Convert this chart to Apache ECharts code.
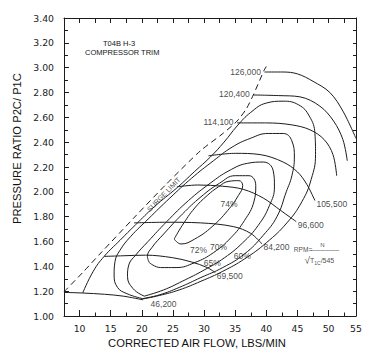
<!DOCTYPE html>
<html><head><meta charset="utf-8">
<script src="https://cdn.jsdelivr.net/npm/echarts@6/dist/echarts.min.js"></script>
<style>html,body{margin:0;padding:0;background:#fff}#c{width:372px;height:361px}</style>
</head><body><div id="c"></div>
<script>
// ---- axes ----
const X_MIN = 7.5, X_MAX = 54.4, Y_MIN = 1.0, Y_MAX = 3.4;
const xTickLabels = [10, 15, 20, 25, 30, 35, 40, 45, 50, 55];
const xMinorTicks = [12.5, 17.5, 22.5, 27.5, 32.5, 37.5, 42.5, 47.5, 52.5];
const yTickLabels = ['1.00','1.20','1.40','1.60','1.80','2.00','2.20','2.40','2.60','2.80','3.00','3.20','3.40'];

// ---- surge limit (dashed) ----
const surgeLimit = [[7.5,1.195],[10.5,1.35],[13.4,1.507],[19,1.805],[23.8,2.055],[29.4,2.33],[32.9,2.465],[35.3,2.57],[36.8,2.67],[37.9,2.78],[39.65,2.98],[40,3.01]];

// ---- speed lines (RPM) ----
const speedNames = ['46,200','69,500','84,200','96,600','105,500','114,100','120,400','126,000'];
const rpm46200  = [[7.5,1.19],[10.5,1.185],[14,1.175],[17,1.16],[20.2,1.13]];
const rpm69500  = [[13.95,1.48],[17,1.485],[20.6,1.49],[24.9,1.47],[28,1.435],[30.5,1.39],[31.8,1.35]];
const rpm84200  = [[18.76,1.75],[24,1.755],[29.4,1.75],[34.7,1.72],[37.5,1.665],[39.3,1.58]];
const rpm96600  = [[25.65,2.04],[29,2.055],[33,2.045],[36.3,2.02],[39.5,1.95],[42.3,1.85],[44.8,1.76]];
const rpm105500 = [[30.7,2.29],[35,2.31],[39,2.30],[42.7,2.24],[45,2.16],[46.5,2.06],[47.8,1.93]];
const rpm114100 = [[35.3,2.555],[40,2.555],[44,2.54],[47,2.5],[49.3,2.42],[50.7,2.3],[51.3,2.13]];
const rpm120400 = [[37.9,2.78],[42,2.775],[45.4,2.765],[48.6,2.69],[50.8,2.57],[52.3,2.42],[53,2.25]];
const rpm126000 = [[39.7,2.965],[42.7,2.965],[45,2.95],[47.5,2.89],[50.2,2.80],[52.3,2.65],[54.4,2.43]];

// ---- efficiency islands ----
const effNames = ['60%','65%','70%','72%','74%'];
const eff60 = [[10.5,1.185],[12.2,1.36],[13.95,1.48],[16.5,1.61],[19,1.735],[22,1.88],[25.7,2.035],[28.5,2.165],[31,2.28],[33.2,2.40],[35.3,2.53],[37.5,2.64],[40,2.715],[42.7,2.73],[45.2,2.70],[46.9,2.61],[47.8,2.47],[47.9,2.30],[47.2,2.10],[45.7,1.92],[43.3,1.75],[40,1.59],[36.5,1.46],[33,1.36],[29.5,1.28],[26,1.21],[22.8,1.165],[20.1,1.137]];
const eff65 = [[20.1,1.14],[17.6,1.18],[16.1,1.23],[15.55,1.33],[15.7,1.44],[16.5,1.53],[18.2,1.64],[21,1.78],[24.5,1.95],[28,2.11],[31.5,2.25],[34.5,2.36],[37.4,2.43],[40.3,2.47],[42.7,2.47],[44.1,2.41],[44.5,2.28],[44.1,2.13],[43.2,2.0],[41.7,1.80],[39.5,1.65],[36.5,1.50],[33,1.39],[29.5,1.31],[26,1.23],[22.8,1.17],[20.1,1.14]];
const eff70 = [[20.4,1.16],[18.6,1.22],[17.7,1.32],[17.9,1.41],[19,1.49],[21,1.60],[24,1.76],[27.5,1.93],[31,2.07],[34,2.17],[37,2.23],[39.5,2.24],[41.1,2.17],[41.3,2.04],[40.5,1.89],[38.7,1.73],[36.2,1.59],[33.3,1.47],[30,1.37],[26.5,1.28],[23.5,1.21],[20.4,1.16]];
const eff72 = [[21.2,1.43],[20.9,1.48],[21.6,1.55],[23.5,1.66],[26.5,1.82],[29.5,1.96],[32.5,2.07],[35,2.13],[37.2,2.13],[38.3,2.05],[38,1.92],[36.5,1.77],[34.3,1.63],[31.5,1.51],[28.5,1.43],[25.5,1.39],[23,1.39],[21.2,1.43]];
const eff74 = [[25.2,1.62],[26.5,1.73],[28.5,1.87],[30.5,1.97],[32.3,2.04],[34,2.085],[35.6,2.09],[36.2,2.05],[35.5,1.97],[33.8,1.85],[31.3,1.72],[28.5,1.62],[26.3,1.58],[25.2,1.62]];
// label anchors (data space) for the efficiency islands, same order as effNames
const effLabelAt = [[36.2,1.477],[31.4,1.42],[32.4,1.553],[29.2,1.53],[34.1,1.90]];

const INK = '#1c1c1c';
const TXT = '#151515';
const speedLines = [rpm46200, rpm69500, rpm84200, rpm96600, rpm105500, rpm114100, rpm120400, rpm126000];
const effLines = [eff60, eff65, eff70, eff72, eff74];

const lineSeries = (data, name, extra) => Object.assign({
  type: 'line', name, data, showSymbol: false, symbol: 'none', smooth: 0.35,
  lineStyle: { color: INK, width: 1 }, silent: true, z: 3
}, extra || {});

const series = [];
series.push(lineSeries(surgeLimit, 'SURGE LIMIT', { smooth: 0.25, lineStyle: { color: INK, width: 1, type: [6, 4] } }));
speedLines.forEach((d, i) => series.push(lineSeries(d, speedNames[i])));
effLines.forEach((d, i) => series.push(lineSeries(d, effNames[i], { smooth: 0.45 })));

const txt = { fontFamily: 'Liberation Sans', color: TXT };
const labelBase = { show: true, position: [0, 0], verticalAlign: 'middle', formatter: p => p.name,
  textBorderWidth: 0, ...txt };
const ghost = { type: 'scatter', symbolSize: 1, itemStyle: { color: 'rgba(0,0,0,0)' }, silent: true, z: 5 };

// speed labels: the three top ones sit at the start of their line, the rest at the end
const speedLabelData = speedLines.map((d, i) => {
  const top = i >= 5;
  const p = top ? d[0] : d[d.length - 1];
  const off = top ? [-3, 0] : (i === 0 ? [8, 5] : [2, 4]);
  return { name: speedNames[i], value: p,
    label: { align: top ? 'right' : 'left', offset: off } };
});
const effLabelData = effNames.map((n, i) => ({ name: n, value: effLabelAt[i], label: { align: 'center' } }));

series.push(Object.assign({}, ghost, {
  data: speedLabelData.concat(effLabelData),
  label: Object.assign({}, labelBase, { fontSize: 8.5 })
}));
// surge limit label
series.push(Object.assign({}, ghost, {
  data: [{ name: 'SURGE LIMIT', value: [23.6, 1.975] }],
  label: Object.assign({}, labelBase, { rotate: 46, align: 'center', fontSize: 7 })
}));
// RPM formula
series.push(Object.assign({}, ghost, {
  data: [
    { name: 'RPM=', value: [44.5, 1.53], label: { align: 'left', fontSize: 6.6 } },
    { name: 'N', value: [49.1, 1.565], label: { align: 'center', fontSize: 6 } },
    { name: '──────', value: [49.5, 1.52], label: { align: 'center', fontSize: 6.7 } },
    { name: '{r|√}{t|T}{s|1C}{t|/545}', value: [48.6, 1.44], label: { align: 'center' } }
  ],
  label: Object.assign({}, labelBase, {
    rich: { r: { fontSize: 10, ...txt }, t: { fontSize: 7, ...txt }, s: { fontSize: 5, ...txt, padding: [4, 0, 0, 0] } } })
}));

const xLabelPos = xTickLabels.map(v => Math.min(v, X_MAX));
const axisLineStyle = { color: INK, width: 1 };

const option = {
  animation: false,
  backgroundColor: '#fff',
  title: [
    { text: 'T04B H-3', left: 103, top: 39, padding: 0, textStyle: { fontSize: 7.5, fontWeight: 'normal', ...txt } },
    { text: 'COMPRESSOR TRIM', left: 85, top: 48, padding: 0, textStyle: { fontSize: 7.5, fontWeight: 'normal', ...txt } }
  ],
  grid: { left: 64, right: 16, top: 18, bottom: 45 },
  xAxis: [
    { type: 'value', min: X_MIN, max: X_MAX, position: 'bottom',
      axisLine: { show: true, lineStyle: axisLineStyle },
      axisTick: { show: true, inside: true, length: 6, lineStyle: axisLineStyle, customValues: xTickLabels.filter(v => v < X_MAX) },
      axisLabel: { show: true, margin: 8, customValues: xLabelPos, fontFamily: 'DejaVu Sans', fontSize: 9.3, color: '#222',
        formatter: v => { const i = xLabelPos.indexOf(v); return i >= 0 ? String(xTickLabels[i]) : ''; } },
      splitLine: { show: false },
      name: 'CORRECTED AIR FLOW, LBS/MIN', nameLocation: 'middle', nameGap: 21,
      nameTextStyle: { fontFamily: 'Liberation Sans', fontSize: 11.2, color: '#111', padding: [0, 26, 0, 0] } },
    { type: 'value', min: X_MIN, max: X_MAX, position: 'bottom',
      axisLine: { show: false },
      axisTick: { show: true, inside: true, length: 3.5, lineStyle: axisLineStyle, customValues: xMinorTicks },
      axisLabel: { show: false }, splitLine: { show: false } },
    { type: 'value', min: X_MIN, max: X_MAX, interval: 2.5, position: 'top',
      axisLine: { show: true, lineStyle: axisLineStyle },
      axisTick: { show: true, inside: true, length: 5, lineStyle: axisLineStyle },
      axisLabel: { show: false }, splitLine: { show: false } }
  ],
  yAxis: [
    { type: 'value', min: Y_MIN, max: Y_MAX, interval: 0.2, position: 'left',
      axisLine: { show: true, lineStyle: axisLineStyle },
      axisTick: { show: true, inside: true, length: 5, lineStyle: axisLineStyle },
      minorTick: { show: true, splitNumber: 2, length: 4, lineStyle: axisLineStyle },
      axisLabel: { show: true, margin: 10, fontFamily: 'DejaVu Sans', fontSize: 9.3, color: '#222',
        formatter: v => { const s = v.toFixed(2); return yTickLabels.indexOf(s) >= 0 ? s : ''; } },
      splitLine: { show: false }, minorSplitLine: { show: false },
      name: 'PRESSURE RATIO P2C/ P1C', nameLocation: 'middle', nameGap: 39,
      nameTextStyle: { fontFamily: 'Liberation Sans', fontSize: 11.2, color: '#111', padding: [0, 0, 0, 37] } },
    { type: 'value', min: Y_MIN, max: Y_MAX, interval: 0.2, position: 'right',
      axisLine: { show: true, lineStyle: axisLineStyle },
      axisTick: { show: true, inside: true, length: 3, lineStyle: axisLineStyle },
      minorTick: { show: true, splitNumber: 2, length: 3, lineStyle: axisLineStyle },
      axisLabel: { show: false }, splitLine: { show: false } }
  ],
  series
};

const chart = echarts.init(document.getElementById('c'), null, { renderer: 'svg', width: 372, height: 361 });
chart.setOption(option);
</script>
</body></html>
